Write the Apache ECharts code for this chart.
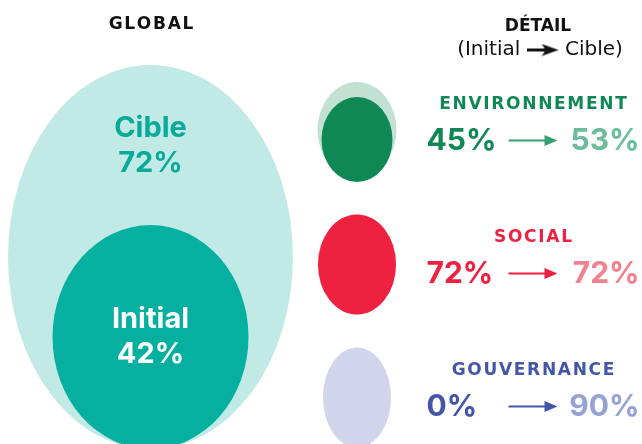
<!DOCTYPE html>
<html>
<head>
<meta charset="utf-8">
<script src="https://cdn.jsdelivr.net/npm/echarts@6/dist/echarts.min.js"></script>
<style>
  html, body { margin: 0; padding: 0; background: #fff; }
  #chart { width: 642px; height: 444px; }
</style>
</head>
<body>
<div id="chart"></div>
<script>
// données
const globalLabels = ['Cible', 'Initial']
const globalValues = [72, 42]
const piliers = ['ENVIRONNEMENT', 'SOCIAL', 'GOUVERNANCE']
const initialDetail = [45, 72, 0]
const cibleDetail = [53, 72, 90]

// mise en forme
const FONT = 'Inter, "Noto Sans", sans-serif'
const FONT_LARGE = '"DejaVu Sans", Inter, sans-serif'
const couleursFonce = ['#0f8856', '#ee2240', '#4456a8']
const couleursClair = ['#c2e1d3', '#f9c0c8', '#d1d5ec']
const couleursTexteClair = ['#69bd98', '#f5808f', '#96a2d4']
const couleursFleche = ['#3b9f75', '#ee2240', '#4456a8']
const tailleCible = [[79, 96], [78, 100], [68, 100]]
const decalageCible = [-1.5, 0, 0]
const tailleInitial = [[71, 85], [78, 100], [68, 100]]
const decalageInitial = [8, 0, 0]

const espacer = s => s.split('').join('\u200A')

// petite flèche noire du sous-titre
const flecheCanvas = document.createElement('canvas')
flecheCanvas.width = 32
flecheCanvas.height = 13
const fctx = flecheCanvas.getContext('2d')
fctx.fillStyle = '#111'
fctx.fillRect(0, 5, 19, 3)
fctx.beginPath()
fctx.moveTo(15, 0.5)
fctx.lineTo(32, 6.5)
fctx.lineTo(15, 12.5)
fctx.lineTo(19, 6.5)
fctx.closePath()
fctx.fill()

const chart = echarts.init(document.getElementById('chart'))

const option = {
  animation: false,
  backgroundColor: '#fff',
  grid: [
    { left: 8, top: 65, width: 285, height: 384, outerBoundsMode: 'none' },
    { left: 269, top: 65, width: 352, height: 399, outerBoundsMode: 'none' }
  ],
  xAxis: [
    { type: 'category', gridIndex: 0, data: ['GLOBAL'], show: false },
    { type: 'category', gridIndex: 1, data: ['pastille', 'texte'], show: false }
  ],
  yAxis: [
    { type: 'category', gridIndex: 0, data: ['Global'], show: false },
    { type: 'category', gridIndex: 1, data: piliers, inverse: true, show: false }
  ],
  graphic: [
    {
      type: 'text', x: 151, y: 25,
      style: { text: espacer('GLOBAL'), font: 'bold 17px ' + FONT_LARGE, fill: '#111', align: 'center', verticalAlign: 'middle', textAlign: 'center', textVerticalAlign: 'middle' }
    },
    {
      type: 'text', x: 538, y: 27,
      style: { text: 'DÉTAIL', font: 'bold 17px ' + FONT_LARGE, fill: '#111', align: 'center', verticalAlign: 'middle', textAlign: 'center', textVerticalAlign: 'middle' }
    },
    {
      type: 'text', x: 540, y: 50,
      style: {
        text: '(Initial {f|} Cible)',
        font: '20px ' + FONT_LARGE, fill: '#111', align: 'center', verticalAlign: 'middle', textAlign: 'center', textVerticalAlign: 'middle',
        rich: { f: { width: 32, height: 13, backgroundColor: { image: flecheCanvas } } }
      }
    }
  ],
  series: [
    {
      type: 'scatter', name: globalLabels[0], xAxisIndex: 0, yAxisIndex: 0, z: 2, silent: true,
      data: [{
        value: ['GLOBAL', 'Global'],
        symbolSize: [285, 384],
        itemStyle: { color: '#c1eae7', opacity: 1 },
        label: {
          show: true, position: 'inside', offset: [0, -111],
          formatter: globalLabels[0] + '\n' + globalValues[0] + '%',
          color: '#0aaa98', fontFamily: FONT, fontWeight: 700, fontSize: 29, lineHeight: 35
        }
      }]
    },
    {
      type: 'scatter', name: globalLabels[1], xAxisIndex: 0, yAxisIndex: 0, z: 3, silent: true,
      data: [{
        value: ['GLOBAL', 'Global'],
        symbolSize: [196, 224],
        symbolOffset: [0, 80],
        itemStyle: { color: '#06b0a1', opacity: 1 },
        label: {
          show: true, position: 'inside',
          formatter: globalLabels[1] + '\n' + globalValues[1] + '%',
          color: '#fff', fontFamily: FONT, fontWeight: 700, fontSize: 29, lineHeight: 35
        }
      }]
    },
    {
      type: 'scatter', name: 'Cible', xAxisIndex: 1, yAxisIndex: 1, z: 2, silent: true,
      data: piliers.map((p, i) => ({
        value: ['pastille', p],
        symbolSize: cibleDetail[i] > 0 ? tailleCible[i] : 0,
        symbolOffset: [0, decalageCible[i]],
        itemStyle: { color: couleursClair[i], opacity: 1 }
      }))
    },
    {
      type: 'scatter', name: 'Initial', xAxisIndex: 1, yAxisIndex: 1, z: 3, silent: true,
      data: piliers.map((p, i) => ({
        value: ['pastille', p],
        symbolSize: initialDetail[i] > 0 ? tailleInitial[i] : 0,
        symbolOffset: [0, decalageInitial[i]],
        itemStyle: { color: couleursFonce[i], opacity: 1 }
      }))
    },
    {
      type: 'scatter', name: 'Flèche', xAxisIndex: 1, yAxisIndex: 1, z: 3, silent: true,
      symbol: 'path://M0,4L36,4L36,-0.5L49,5L36,10.5L36,6L0,6Z',
      data: piliers.map((p, i) => ({
        value: ['texte', p],
        symbolSize: [49, 11],
        symbolOffset: [0, 9],
        itemStyle: { color: couleursFleche[i], opacity: 1 }
      }))
    },
    {
      type: 'scatter', name: 'Texte', xAxisIndex: 1, yAxisIndex: 1, z: 4, silent: true,
      symbolSize: 0,
      itemStyle: { opacity: 1 },
      data: piliers.map((p, i) => ({
        value: ['texte', p],
        itemStyle: { opacity: 1 },
        label: {
          show: true, position: 'inside', offset: [0, -6],
          formatter: '{t|' + espacer(p) + '}\n{a|' + initialDetail[i] + '%}{b|' + cibleDetail[i] + '%}',
          rich: {
            t: { fontFamily: FONT_LARGE, fontWeight: 700, fontSize: 17, lineHeight: 30, color: couleursFonce[i], align: 'center' },
            a: { fontFamily: FONT, fontWeight: 700, fontSize: 30, lineHeight: 42, color: couleursFonce[i], width: 106, align: 'left' },
            b: { fontFamily: FONT, fontWeight: 700, fontSize: 30, lineHeight: 42, color: couleursTexteClair[i], width: 107, align: 'right' }
          }
        }
      }))
    }
  ]
}

chart.setOption(option)
</script>
</body>
</html>
